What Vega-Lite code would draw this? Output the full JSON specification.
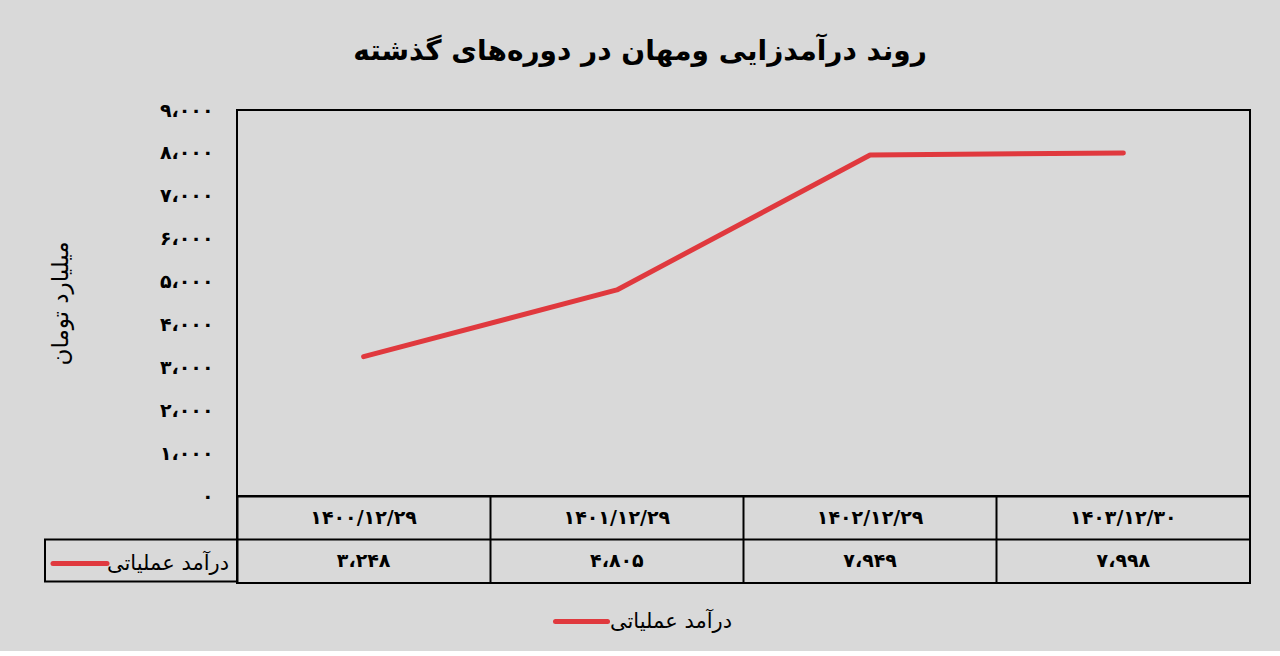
{
  "$schema": "https://vega.github.io/schema/vega-lite/v6.json",
  "background": "#d9d9d9",
  "padding": {"left": 43, "top": 38, "right": 30, "bottom": 18},
  "title": {
    "text": "روند درآمدزایی ومهان در دوره\u200cهای گذشته",
    "font": "DejaVu Sans",
    "fontSize": 28,
    "fontWeight": "bold",
    "color": "black",
    "anchor": "middle",
    "dx": -7,
    "offset": 34
  },
  "data": {
    "values": [
      {"period": "۱۴۰۰/۱۲/۲۹", "revenue": 3248},
      {"period": "۱۴۰۱/۱۲/۲۹", "revenue": 4805},
      {"period": "۱۴۰۲/۱۲/۲۹", "revenue": 7949},
      {"period": "۱۴۰۳/۱۲/۳۰", "revenue": 7998}
    ]
  },
  "spacing": 0,
  "bounds": "flush",
  "vconcat": [
    {
      "width": 1013,
      "height": 386,
      "mark": {"type": "line", "strokeWidth": 5, "strokeCap": "round", "strokeJoin": "round"},
      "encoding": {
        "x": {"field": "period", "type": "nominal", "sort": null, "bandPosition": 0.5,
              "scale": {"type": "band", "padding": 0}, "axis": null},
        "y": {"field": "revenue", "type": "quantitative",
              "scale": {"domain": [0, 9000], "nice": false},
              "axis": {"values": [0, 1000, 2000, 3000, 4000, 5000, 6000, 7000, 8000, 9000],
                       "format": ",d", "grid": false, "ticks": false, "domain": false,
                       "labelPadding": 24, "labelFontSize": 19, "labelFontWeight": "bold",
                       "labelFont": "DejaVu Sans",
                       "title": "میلیارد تومان", "titleFont": "DejaVu Sans", "titleFontSize": 23,
                       "titleFontWeight": "normal", "titlePadding": 87}},
        "color": {"datum": "درآمد عملیاتی", "scale": {"range": ["#e0393e"]},
                  "legend": {"orient": "none", "legendX": 316, "legendY": 483, "title": null,
                             "symbolSize": 2704, "symbolStrokeWidth": 5, "labelOffset": 0,
                             "labelFontSize": 21, "labelFont": "DejaVu Sans", "labelColor": "black",
                             "padding": 0,
                             "encode": {"symbols": {"update": {"strokeCap": {"value": "round"}}}}}}
      }
    },
    {
      "width": 1013,
      "height": 87,
      "encoding": {
        "x": {"field": "period", "type": "nominal", "sort": null, "bandPosition": 0.5,
              "scale": {"type": "band", "padding": 0},
              "axis": {"grid": true, "bandPosition": 0, "gridColor": "black", "gridWidth": 2,
                       "gridOpacity": 1, "labels": false, "ticks": false, "domain": false, "title": null}}
      },
      "layer": [
        {
          "mark": {"type": "text", "fontSize": 19, "fontWeight": "bold", "font": "DejaVu Sans", "color": "black"},
          "encoding": {
            "y": {"datum": "تاریخ", "type": "nominal", "bandPosition": 0.5,
                  "scale": {"type": "band", "domain": ["تاریخ", "درآمد"], "padding": 0},
                  "axis": {"grid": true, "bandPosition": 0, "gridColor": "black", "gridWidth": 2,
                           "gridOpacity": 1, "labels": false, "ticks": false, "domain": false, "title": null}},
            "text": {"field": "period"}
          }
        },
        {
          "mark": {"type": "text", "fontSize": 19, "fontWeight": "bold", "font": "DejaVu Sans"},
          "encoding": {
            "y": {"datum": "درآمد", "type": "nominal", "bandPosition": 0.5},
            "text": {"field": "revenue", "type": "quantitative", "format": ",d"},
            "color": {"datum": "درآمد عملیاتی", "scale": {"range": ["black"]},
                      "legend": {"orient": "none", "legendX": -192, "legendY": 43.5, "title": null,
                                 "symbolType": "M-2,0H2", "symbolSize": 729, "symbolStrokeWidth": 5,
                                 "symbolOffset": 11, "labelOffset": 11, "labelFontSize": 21,
                                 "labelFont": "DejaVu Sans", "labelColor": "black", "padding": 8,
                                 "strokeColor": "black",
                                 "encode": {
                                   "symbols": {"update": {"stroke": {"value": "#e0393e"},
                                                          "strokeWidth": {"value": 5},
                                                          "strokeCap": {"value": "round"},
                                                          "fill": {"value": "transparent"},
                                                          "opacity": {"value": 1}}},
                                   "legend": {"update": {"strokeWidth": {"value": 2}}}
                                 }}}
          }
        }
      ]
    }
  ],
  "resolve": {"scale": {"color": "independent"}, "legend": {"color": "independent"}},
  "config": {
    "font": "DejaVu Sans",
    "view": {"stroke": "black", "strokeWidth": 2},
    "axis": {"labelColor": "black", "titleColor": "black"},
    "locale": {
      "number": {
        "decimal": "٫",
        "thousands": "،",
        "grouping": [3],
        "currency": ["", ""],
        "numerals": ["۰", "۱", "۲", "۳", "۴", "۵", "۶", "۷", "۸", "۹"]
      }
    }
  }
}
